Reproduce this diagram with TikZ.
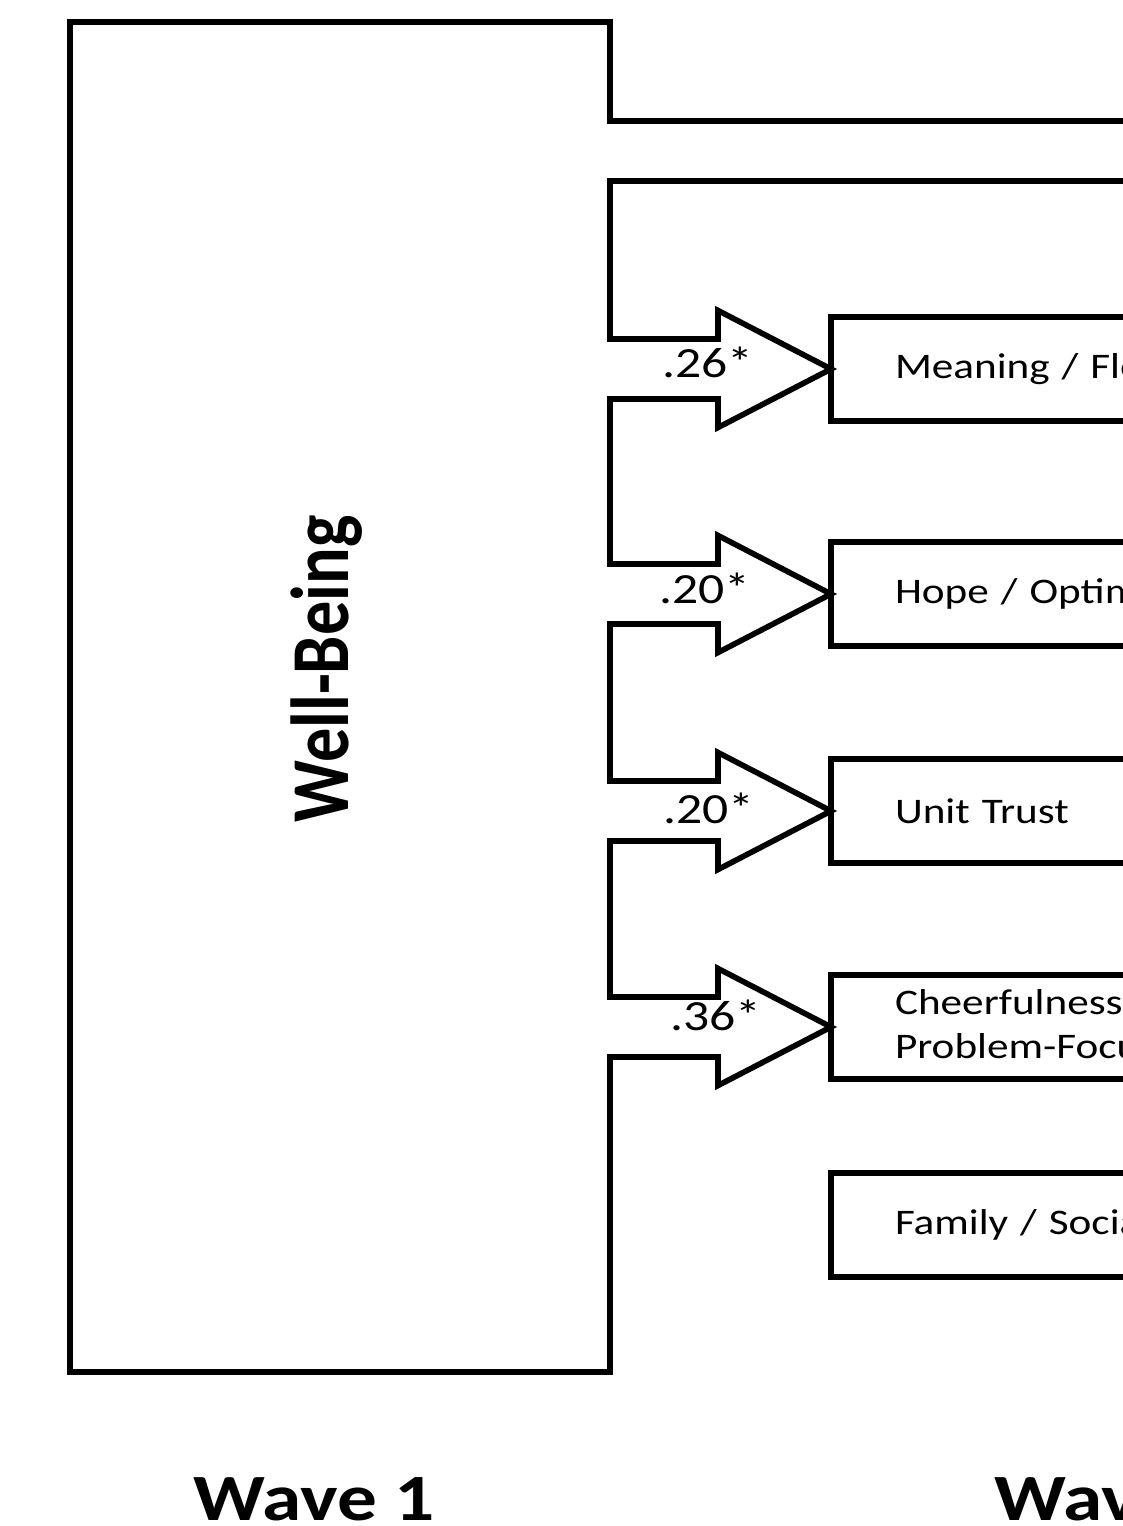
\documentclass[tikz,border=0pt]{standalone}
\usepackage{fontspec}
\setmainfont{Carlito}[FakeStretch=1.2]
\newfontfamily\upfont{Carlito}[FakeStretch=0.83]
\begin{document}
\begin{tikzpicture}[x=0.025cm, y=-0.025cm,
  outline/.style={draw, line width=4pt, line join=miter},
  factor/.style={draw, line width=4pt, outer sep=0pt, anchor=west,
    minimum height=2.6cm, inner xsep=1.6cm, text width=20cm, align=left,
    font=\fontsize{25.6}{30.7}\selectfont},
  coef/.style={anchor=base, font=\fontsize{30.6}{36}\selectfont},
  wave/.style={anchor=base west, inner xsep=0pt,
    font=\fontsize{47}{56}\selectfont\bfseries}]
\useasboundingbox (0,0) rectangle (1123,1526);
\clip (0,0) rectangle (1123,1526);
% wave 2 boxes
\node (mean) [factor] at (831,369) {Meaning / Flow};
\node (hope) [factor] at (831,594) {Hope / Optimism};
\node (trust) [factor] at (831,811) {Unit Trust};
\node (cheer) [factor] at (831,1027) {Cheerfulness /\\Problem-Focused Coping};
\node (family) [factor] at (831,1225) {Family / Social Support};
% wave 1 block, arrows come out of it
\draw[outline] (1200,181) -- (610,181)
  foreach \y/\n in {369/mean, 594/hope, 811/trust, 1027/cheer} {
    -- (610,\y-30) -- (718,\y-30) -- (718,\y-58.5) -- (\n.west)
    -- (718,\y+58.5) -- (718,\y+30) -- (610,\y+30)}
  -- (610,1372) -- (70,1372) -- (70,22) -- (610,22) -- (610,121) -- (1200,121);
\node (well) [rotate=90, anchor=base,
  font=\upfont\bfseries\fontsize{58.5}{70}\selectfont] at (348,669) {Well-Being};
\foreach \n/\v/\x/\b in {mean/.26*/708/377, hope/.20*/705/603,
  trust/.20*/709/823, cheer/.36*/716/1030}
  \node (c\n) [coef] at (\x,\b) {\v};
\node (wave1) [wave] at (193,1520) {Wave 1};
\node (wave2) [wave] at (994,1520) {Wave 2};
\end{tikzpicture}
\end{document}
